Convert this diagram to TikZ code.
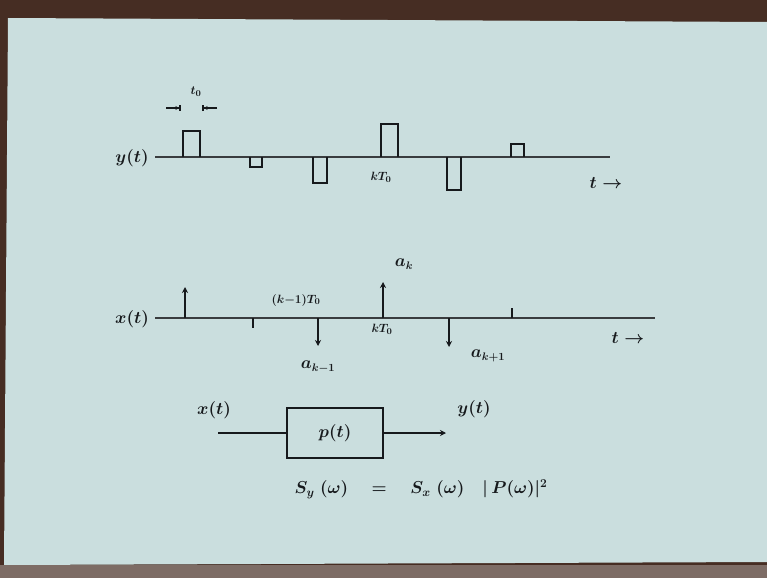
\documentclass[tikz,border=0pt]{standalone}
\usepackage{amsmath}
\usetikzlibrary{arrows.meta}
\definecolor{paper}{RGB}{202,222,222}
\definecolor{ink}{RGB}{22,25,28}
\definecolor{frame}{RGB}{70,45,35}
\begin{document}
\begin{tikzpicture}[x=1pt,y=-1pt,
  axis/.style={draw=ink!85,line width=2.6pt},
  lab/.style={text=ink,font=\fontsize{16}{18}\selectfont\boldmath,inner sep=1pt},
  slab/.style={text=ink,font=\fontsize{13}{15}\selectfont\boldmath,inner sep=1pt},
  imp/.style={draw=ink,line width=2.8pt,-{Stealth[length=6pt,width=6pt]}},
  pulse/.style={draw=ink,line width=2.8pt}]
\useasboundingbox (0,0) rectangle (767,578);
\fill[frame] (0,0) rectangle (767,578);
\fill[paper] (8,18) -- (767,22) -- (767,562) -- (4,565) -- cycle;
\fill[frame!70] (0,565) rectangle (767,578);

% ---- y(t) ----
\node[lab] (ylab) at (132,158) {$y(t)$};
\coordinate (ya) at (155,157);
\coordinate (yb) at (610,157);
\draw[axis] (ya) -- (yb);
\draw[pulse] (183,157) -- (183,131) -- (200,131) -- (200,157);
\draw[pulse] (250,157) -- (250,167) -- (262,167) -- (262,157);
\draw[pulse] (313,157) -- (313,183) -- (327,183) -- (327,157);
\draw[pulse] (381,157) -- (381,124) -- (398,124) -- (398,157);
\draw[pulse] (447,157) -- (447,190) -- (461,190) -- (461,157);
\draw[pulse] (511,157) -- (511,144) -- (524,144) -- (524,157);
\node[slab] (t0) at (196,92) {$t_0$};
\coordinate (t0a) at (166,108);
\coordinate (t0b) at (181,108);
\coordinate (t0c) at (217,108);
\coordinate (t0d) at (202,108);
\draw[draw=ink,line width=1.6pt,-{Stealth[length=4pt,width=4pt]Bar[width=6pt]}] (t0a) -- (t0b);
\draw[draw=ink,line width=1.6pt,-{Stealth[length=4pt,width=4pt]Bar[width=6pt]}] (t0c) -- (t0d);
\node[slab] (kT0y) at (381,177) {$kT_0$};
\node[lab] (ty) at (606,183) {$t\rightarrow$};

% ---- x(t) ----
\node[lab] (xlab) at (132,319) {$x(t)$};
\coordinate (xa) at (155,318);
\coordinate (xb) at (655,318);
\draw[axis] (xa) -- (xb);
\coordinate (b1) at (185,318); \coordinate (e1) at (185,287);
\coordinate (b2) at (253,318); \coordinate (e2) at (253,328);
\coordinate (b3) at (318,318); \coordinate (e3) at (318,346);
\coordinate (b4) at (383,318); \coordinate (e4) at (383,282);
\coordinate (b5) at (449,318); \coordinate (e5) at (449,347);
\coordinate (b6) at (512,318); \coordinate (e6) at (512,308);
\draw[imp] (b1) -- (e1);
\draw[draw=ink,line width=2.8pt] (b2) -- (e2);
\draw[imp] (b3) -- (e3);
\draw[imp] (b4) -- (e4);
\draw[imp] (b5) -- (e5);
\draw[draw=ink,line width=2.8pt] (b6) -- (e6);
\node[slab] (km1) at (296,300) {$(k{-}1)T_0$};
\node[lab] (akm1) at (318,367) {$a_{k-1}$};
\node[lab] (ak) at (404,264) {$a_k$};
\node[slab] (kT0x) at (382,329) {$kT_0$};
\node[lab] (akp1) at (488,356) {$a_{k+1}$};
\node[lab] (tx) at (628,338) {$t\rightarrow$};

% ---- block ----
\node[draw=ink,line width=2.6pt,minimum width=96pt,minimum height=50pt,inner sep=0pt,font=\fontsize{16}{18}\selectfont\boldmath,text=ink] (h) at (335,433) {$p(t)$};
\coordinate (in) at (218,433);
\coordinate (out) at (446,433);
\draw[draw=ink,line width=2.6pt] (in) -- (h.west);
\draw[draw=ink,line width=2.6pt,-{Stealth[length=6pt,width=6pt]}] (h.east) -- (out);
\node[lab] (xin) at (214,410) {$x(t)$};
\node[lab] (yout) at (474,409) {$y(t)$};

% ---- equation ----
\node[text=ink,font=\fontsize{18}{20}\selectfont\boldmath,inner sep=1pt] (eq) at (421,489) {$S_y\;(\omega)\quad=\quad S_x\;(\omega)\quad|\,P(\omega)|^2$};
\end{tikzpicture}
\end{document}
